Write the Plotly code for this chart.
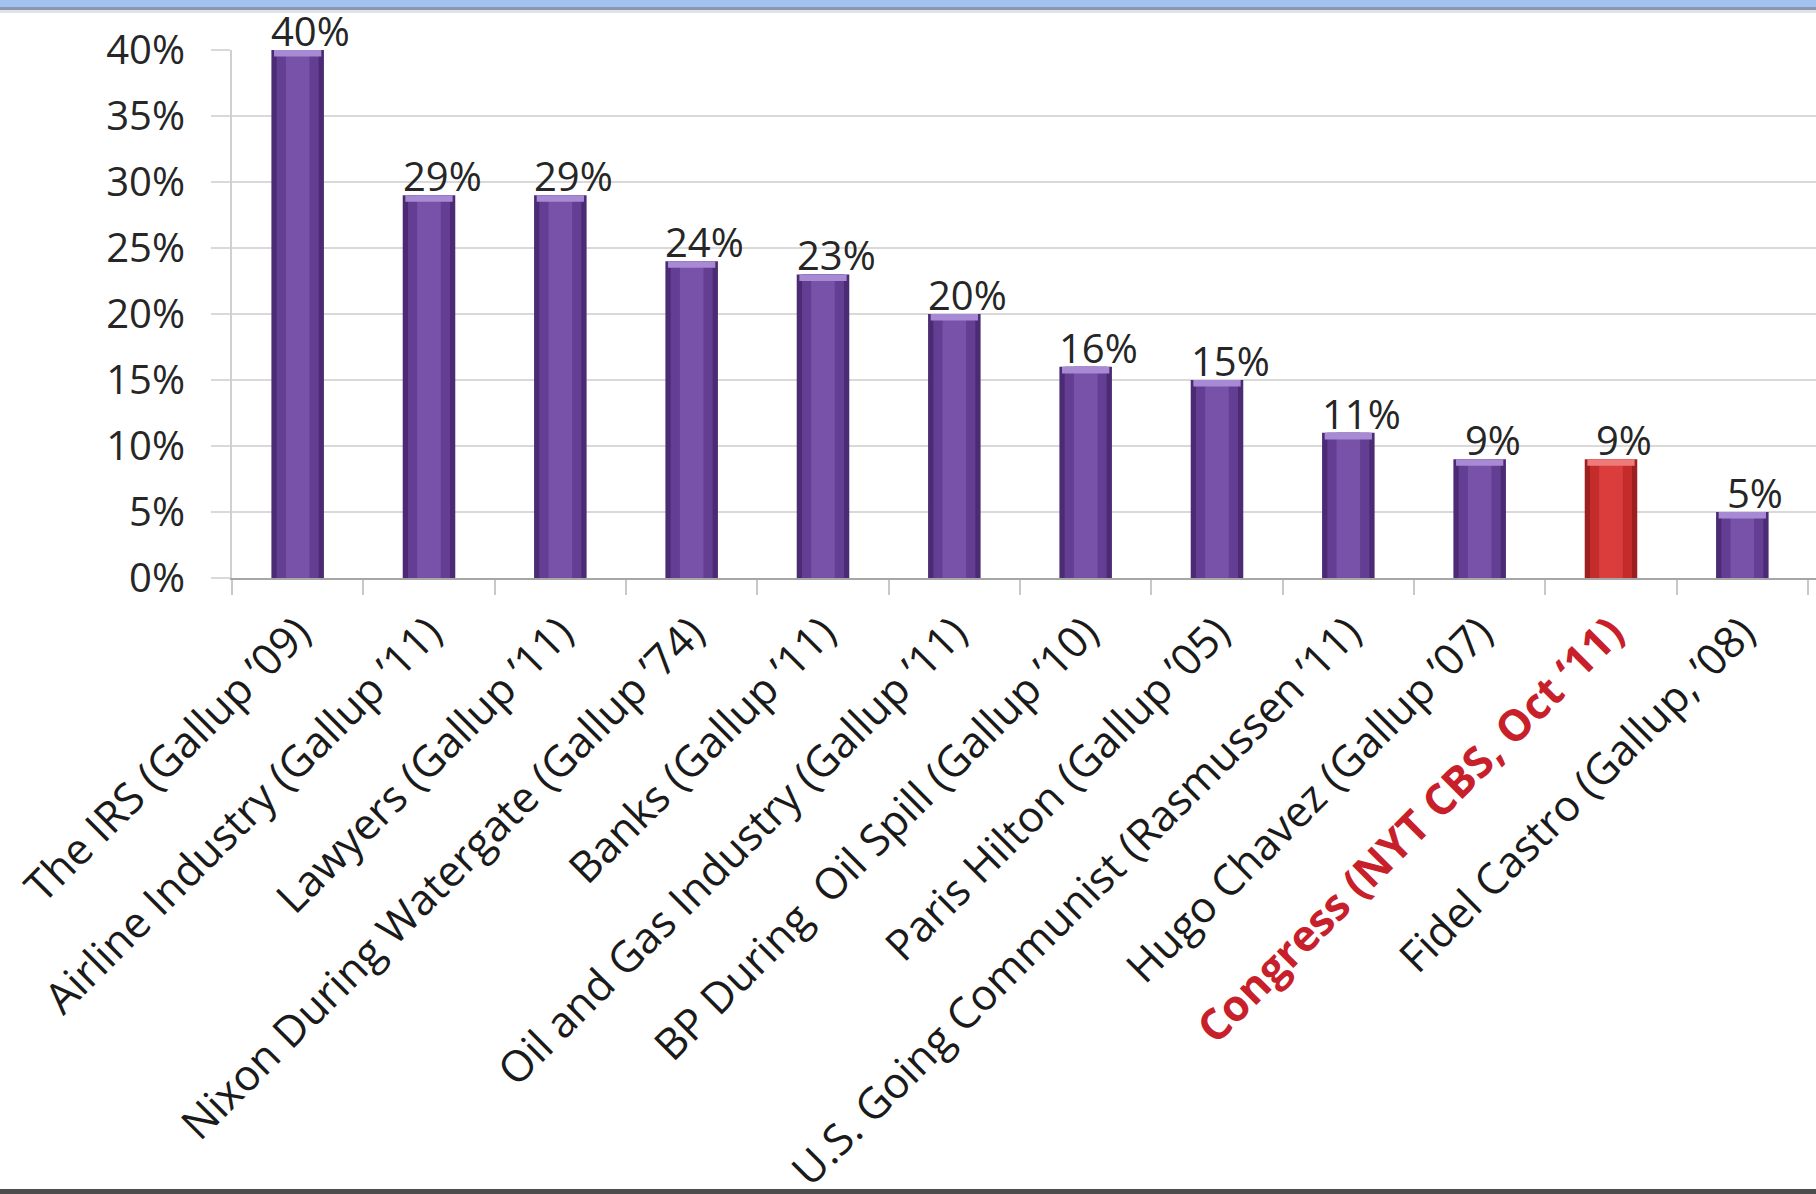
import plotly.graph_objects as go

categories = [
    "The IRS (Gallup ’09)",
    "Airline Industry (Gallup ’11)",
    "Lawyers (Gallup ’11)",
    "Nixon During Watergate (Gallup ’74)",
    "Banks (Gallup ’11)",
    "Oil and Gas Industry (Gallup ’11)",
    "BP During  Oil Spill (Gallup ’10)",
    "Paris Hilton (Gallup ’05)",
    "U.S. Going Communist (Rasmussen ’11)",
    "Hugo Chavez (Gallup ’07)",
    "Congress (NYT CBS, Oct ‘11)",
    "Fidel Castro (Gallup, ’08)",
]
values = [0.40, 0.29, 0.29, 0.24, 0.23, 0.20, 0.16, 0.15, 0.11, 0.09, 0.09, 0.05]
highlight = "Congress (NYT CBS, Oct ‘11)"
y_ticks = [0, 0.05, 0.10, 0.15, 0.20, 0.25, 0.30, 0.35, 0.40]

W, H = 1816, 1194
L, R, T, B = 232, 0, 50, 616
PH = H - T - B
PW = W - L - R

def px_y(p):
    return (H - B - p) / PH

def px_x(q):
    return (q - L) / PW

FONT = "Open Sans"
dark = {False: "#4b2b73", True: "#9e1f1f"}
mid = {False: "#643e93", True: "#c42c2c"}
light = {False: "#7752a8", True: "#db3d3d"}

is_hi = [c == highlight for c in categories]

fig = go.Figure()
for cols, w in ((dark, 0.40), (mid, 0.32), (light, 0.18)):
    fig.add_trace(go.Bar(
        x=categories, y=values, width=w,
        marker=dict(color=[cols[h] for h in is_hi], line=dict(width=0)),
        hoverinfo="skip", showlegend=False,
    ))
# top bevel highlight
tops = {False: "#a88ad4", True: "#ef7a7a"}
fig.add_trace(go.Bar(
    x=categories, y=[0.005] * len(values), base=[v - 0.005 for v in values], width=0.36,
    marker=dict(color=[tops[h] for h in is_hi], line=dict(width=0)),
    hoverinfo="skip", showlegend=False,
))

for c, v in zip(categories, values):
    fig.add_annotation(
        x=c, y=v, text=f"{round(v*100)}%", showarrow=False,
        xanchor="center", yanchor="bottom", xshift=13, yshift=-10,
        font=dict(family=FONT, size=40, color="#262626"),
    )

ticktext = []
for c, h in zip(categories, is_hi):
    if h:
        ticktext.append(f"<span style='color:#c8202a'><b>{c}</b></span>")
    else:
        ticktext.append(c)

fig.update_layout(
    width=W, height=H,
    margin=dict(l=L, r=R, t=T, b=B),
    paper_bgcolor="white", plot_bgcolor="white",
    barmode="overlay",
    font=dict(family=FONT, size=40, color="#262626"),
    xaxis=dict(
        type="category", automargin=False,
        range=[-0.5, 11.5 + 8 / 131.3],
        tickmode="array", tickvals=categories, ticktext=ticktext,
        tickangle=-45, tickson="boundaries",
        ticks="outside", ticklen=15, tickcolor="#c8c8c8", tickwidth=2,
        showgrid=False, showline=True, linecolor="#a6a6a6", linewidth=2,
        tickfont=dict(family=FONT, size=43, color="#1a1a1a"),
        ticklabelstandoff=10,
    ),
    yaxis=dict(
        automargin=False,
        range=[0, 0.40], tickvals=y_ticks, tickformat=".0%",
        showgrid=True, gridcolor="#d9d9d9", gridwidth=2,
        ticks="outside", ticklen=19, tickcolor="#d9d9d9", tickwidth=2,
        showline=True, linecolor="#d0d0d0", linewidth=2,
        zeroline=False,
        tickfont=dict(family=FONT, size=40, color="#262626"),
        ticklabelstandoff=18,
    ),
    shapes=[
        dict(type="rect", xref="paper", yref="paper", x0=px_x(0), x1=px_x(W),
             y0=px_y(7), y1=px_y(0), fillcolor="#a2c2f2", line=dict(width=0), layer="above"),
        dict(type="rect", xref="paper", yref="paper", x0=px_x(0), x1=px_x(W),
             y0=px_y(10), y1=px_y(7), fillcolor="#8b97aa", line=dict(width=0), layer="above"),
        dict(type="rect", xref="paper", yref="paper", x0=px_x(0), x1=px_x(W),
             y0=px_y(13), y1=px_y(10), fillcolor="#dfe4ea", line=dict(width=0), layer="above"),
        dict(type="rect", xref="paper", yref="paper", x0=px_x(0), x1=px_x(W),
             y0=px_y(H), y1=px_y(1189), fillcolor="#4d4d4d", line=dict(width=0), layer="above"),
    ],
)

fig.write_html("out.html")
